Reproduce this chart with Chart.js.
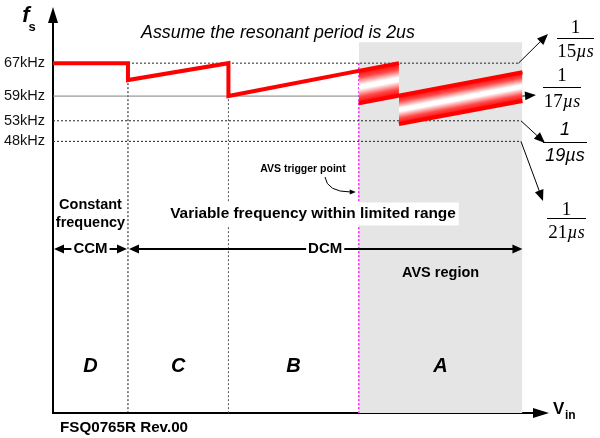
<!DOCTYPE html>
<html>
<head>
<meta charset="utf-8">
<script src="https://cdn.jsdelivr.net/npm/chart.js@4.4.0/dist/chart.umd.min.js"></script>
<style>
  html, body { margin: 0; padding: 0; background: #fff; }
  #wrap { width: 600px; height: 438px; }
</style>
</head>
<body>
<div id="wrap"><canvas id="chart" width="600" height="438"></canvas></div>
<script>
// frequency levels marked on the fs axis (kHz) and the matching periods (us)
const levels = [67, 59, 53, 48];
const periods = ['15', '17', '19', '21'];
const levelStart = [15.3, 0, 0, 0];
const levelEnd = [95.0, 95.8, 95.5, 95.5];

// operating regions along Vin
const regionNames = ['D', 'C', 'B', 'A'];
const regionEdges = [0, 15.3, 35.8, 62.4, 95.8];

// switching frequency trace
const fsX = [0, 15.3, 15.3, 35.8, 35.8, 70.6];
const fsY = [67, 67, 62.9, 67, 59, 67];

// AVS spread: first wedge, continuing band and its edges
const wedgeX = [62.4, 70.6];
const wedgeTop = [65.1, 67];
const wedgeBottom = [57.25, 59.1];
const bandX = [70.6, 95.8];
const bandTop = [59.1, 64.8];
const bandBottom = [52.2, 57.8];
const midX = [62.4, 95.8];
const midY = [57.25, 64.8];
const avsTop = 72.1;

const Y_MIN = -18, Y_MAX = 77;
const SANS = '"Liberation Sans", Arial, sans-serif';
const SERIF = '"Liberation Serif", "Times New Roman", serif';
const RED = '#ff0000';

const pts = (xs, ys) => xs.map((x, i) => ({ x: x, y: ys[i] }));

function bandGradient(xs, top, bottom) {
  return function (c) {
    const chart = c.chart;
    if (!chart.chartArea) return 'rgba(255,0,0,0.4)';
    const sx = chart.scales.x, sy = chart.scales.y;
    const x0 = sx.getPixelForValue(xs[0]), x1 = sx.getPixelForValue(xs[1]);
    const t0 = sy.getPixelForValue(top[0]), t1 = sy.getPixelForValue(top[1]);
    const b0 = sy.getPixelForValue(bottom[0]);
    let dx = x1 - x0, dy = t1 - t0;
    const len = Math.hypot(dx, dy);
    dx /= len; dy /= len;
    // gradient runs across the band, perpendicular to its edges
    const h = (b0 - t0) * dx;
    const g = chart.ctx.createLinearGradient(x0, t0, x0 - dy * h, t0 + dx * h);
    g.addColorStop(0, '#ff0000');
    g.addColorStop(0.2, '#ff4a4a');
    g.addColorStop(0.44, '#ffffff');
    g.addColorStop(0.56, '#ffffff');
    g.addColorStop(0.8, '#ff4a4a');
    g.addColorStop(1, '#ff0000');
    return g;
  };
}

const datasets = [];
// shaded AVS region
datasets.push({ data: pts([regionEdges[3], regionEdges[4]], [avsTop, avsTop]),
  borderWidth: 0, fill: 'start', backgroundColor: '#e5e5e5', order: 20 });

// frequency level lines
levels.forEach((v, i) => {
  datasets.push({ data: pts([levelStart[i], levelEnd[i]], [v, v]),
    borderColor: i === 1 ? '#808080' : '#222', borderWidth: 1,
    borderDash: i === 1 ? [] : [2, 2], order: 10 });
});

// region dividers
const dividerColors = ['#111', '#555', '#ff22ff'];
regionEdges.slice(1, 4).forEach((v, i) => {
  datasets.push({ data: pts([v, v], [levels[0], Y_MIN]),
    borderColor: dividerColors[i], borderWidth: i === 2 ? 1.5 : 1,
    borderDash: [2, 2], order: 10 });
});

// gradient fills of the AVS spread
let idx = datasets.length;
datasets.push({ data: pts(wedgeX, wedgeTop), borderWidth: 0,
  fill: { target: idx + 1 }, backgroundColor: bandGradient(wedgeX, wedgeTop, wedgeBottom), order: 5 });
datasets.push({ data: pts(wedgeX, wedgeBottom), borderWidth: 0, order: 5 });
idx = datasets.length;
datasets.push({ data: pts(bandX, bandTop), borderWidth: 0,
  fill: { target: idx + 1 }, backgroundColor: bandGradient(bandX, bandTop, bandBottom), order: 5 });
datasets.push({ data: pts(bandX, bandBottom), borderWidth: 0, order: 5 });

// red traces
datasets.push({ data: pts(fsX, fsY), borderColor: RED, borderWidth: 4, order: 0 });
datasets.push({ data: pts(midX, midY), borderColor: RED, borderWidth: 4, order: 0 });
datasets.push({ data: pts(bandX, bandBottom), borderColor: RED, borderWidth: 4, order: 0 });

function arrowHead(ctx, x0, y0, x1, y1, len, half) {
  const a = Math.atan2(y1 - y0, x1 - x0);
  ctx.beginPath();
  ctx.moveTo(x1, y1);
  ctx.lineTo(x1 - len * Math.cos(a) + half * Math.sin(a), y1 - len * Math.sin(a) - half * Math.cos(a));
  ctx.lineTo(x1 - len * Math.cos(a) - half * Math.sin(a), y1 - len * Math.sin(a) + half * Math.cos(a));
  ctx.closePath();
  ctx.fill();
}

function arrow(ctx, x0, y0, x1, y1, width, len, half) {
  const a = Math.atan2(y1 - y0, x1 - x0);
  ctx.lineWidth = width;
  ctx.beginPath();
  ctx.moveTo(x0, y0);
  ctx.lineTo(x1 - len * 0.8 * Math.cos(a), y1 - len * 0.8 * Math.sin(a));
  ctx.stroke();
  arrowHead(ctx, x0, y0, x1, y1, len, half);
}

function fraction(ctx, cx, yNum, yLine, yDen, half, digits, italicSans) {
  ctx.textBaseline = 'middle';
  ctx.textAlign = 'center';
  const fam = italicSans ? SANS : SERIF;
  const up = italicSans ? 'italic 18px ' + fam : '19px ' + fam;
  const it = 'italic 18px ' + fam;
  ctx.font = up;
  ctx.fillText('1', cx, yNum);
  ctx.lineWidth = 1;
  ctx.beginPath();
  ctx.moveTo(cx - half, yLine + 0.5);
  ctx.lineTo(cx + half, yLine + 0.5);
  ctx.stroke();
  const w1 = ctx.measureText(digits).width;
  ctx.font = it;
  const w2 = ctx.measureText('\u00b5s').width;
  const x0 = cx - (w1 + w2) / 2;
  ctx.textAlign = 'left';
  ctx.font = up;
  ctx.fillText(digits, x0, yDen);
  ctx.font = it;
  ctx.fillText('\u00b5s', x0 + w1, yDen);
}

function boxedText(ctx, text, cx, cy, padX, h) {
  const w = ctx.measureText(text).width;
  ctx.fillStyle = '#fff';
  ctx.fillRect(cx - w / 2 - padX, cy - h / 2, w + 2 * padX, h);
  ctx.fillStyle = '#000';
  ctx.fillText(text, cx, cy);
}

const notes = {
  id: 'notes',
  afterDatasetsDraw(chart) {
    const ctx = chart.ctx;
    const sx = chart.scales.x, sy = chart.scales.y;
    const a = chart.chartArea;
    const px = v => sx.getPixelForValue(v);
    const py = v => sy.getPixelForValue(v);
    ctx.save();
    ctx.fillStyle = '#000';
    ctx.strokeStyle = '#000';

    // axis arrows
    arrowHead(ctx, a.left, a.top + 10, a.left, 7, 16, 5);
    ctx.lineWidth = 2;
    ctx.beginPath(); ctx.moveTo(a.right, a.bottom); ctx.lineTo(538, a.bottom); ctx.stroke();
    arrowHead(ctx, a.right, a.bottom, 549, a.bottom, 16, 5);

    // axis names
    ctx.textBaseline = 'middle';
    ctx.textAlign = 'center';
    ctx.font = 'italic bold 22px ' + SANS;
    ctx.fillText('f', 26, 16);
    ctx.font = 'bold 13px ' + SANS;
    ctx.fillText('s', 32, 27);
    ctx.textAlign = 'left';
    ctx.font = 'bold 17px ' + SANS;
    ctx.fillText('V', 553, 409);
    ctx.font = 'bold 12px ' + SANS;
    ctx.fillText('in', 565, 416);

    // heading
    ctx.textAlign = 'center';
    ctx.font = 'italic 17.8px ' + SANS;
    ctx.fillText('Assume the resonant period is 2us', 278, 33);

    // period labels with arrows from the level lines
    const tips = [[548, 34], [536, 95], [545, 143], [543, 201]];
    const frac = [[575.5, 28, 38, 52, 18.5], [562, 76, 87, 102, 19], [565, 130, 142, 156, 22], [566.5, 210, 218, 233, 19.5]];
    levels.forEach((v, i) => {
      const x0 = px(levelEnd[i]), y0 = py(v);
      ctx.fillStyle = '#000'; ctx.strokeStyle = '#000';
      arrow(ctx, x0, y0, tips[i][0], tips[i][1], 1, 11, 4.5);
      const f = frac[i];
      fraction(ctx, f[0], f[1], f[2], f[3], f[4], periods[i], i === 2);
    });

    // AVS trigger point
    ctx.textAlign = 'center';
    ctx.textBaseline = 'middle';
    ctx.font = 'bold 10.5px ' + SANS;
    ctx.fillText('AVS trigger point', 303, 169);
    ctx.lineWidth = 1;
    ctx.beginPath();
    ctx.moveTo(325, 177);
    ctx.quadraticCurveTo(327, 192, 351, 192);
    ctx.stroke();
    arrowHead(ctx, 340, 192, px(regionEdges[3]) - 3, 192, 6, 2.5);

    // region descriptions
    ctx.font = 'bold 15.4px ' + SANS;
    boxedText(ctx, 'Variable frequency within limited range', 313, 214, 3, 23);
    ctx.font = 'bold 14.5px ' + SANS;
    const midD = (px(regionEdges[0]) + px(regionEdges[1])) / 2;
    ctx.fillText('Constant', midD, 205);
    ctx.fillText('frequency', midD, 223);
    ctx.fillText('AVS region', (px(regionEdges[3]) + px(regionEdges[4])) / 2, 273);

    // CCM / DCM span arrows
    const yRow = 249;
    const e0 = px(regionEdges[0]), e1 = px(regionEdges[1]), e4 = px(regionEdges[4]);
    ctx.lineWidth = 2;
    ctx.beginPath(); ctx.moveTo(e0 + 4, yRow); ctx.lineTo(e1 - 4, yRow); ctx.stroke();
    ctx.beginPath(); ctx.moveTo(e1 + 5, yRow); ctx.lineTo(e4 - 4, yRow); ctx.stroke();
    arrowHead(ctx, e1, yRow, e0 + 1, yRow, 10, 4.5);
    arrowHead(ctx, e0, yRow, e1 - 1, yRow, 10, 4.5);
    arrowHead(ctx, e4, yRow, e1 + 1, yRow, 10, 4.5);
    arrowHead(ctx, e1, yRow, e4, yRow, 10, 4.5);
    ctx.font = 'bold 15px ' + SANS;
    boxedText(ctx, 'CCM', (e0 + e1) / 2, yRow, 2, 16);
    boxedText(ctx, 'DCM', (e1 + e4) / 2, yRow, 2, 16);

    // region letters
    ctx.font = 'italic bold 20px ' + SANS;
    regionNames.forEach((n, i) => {
      ctx.fillText(n, (px(regionEdges[i]) + px(regionEdges[i + 1])) / 2, 366);
    });

    // footer
    ctx.textAlign = 'left';
    ctx.font = 'bold 15.2px ' + SANS;
    ctx.fillText('FSQ0765R Rev.00', 60, 428);
    ctx.restore();
  }
};

new Chart(document.getElementById('chart'), {
  type: 'line',
  data: { datasets: datasets },
  options: {
    responsive: false,
    animation: false,
    layout: { autoPadding: false, padding: { left: 0, right: 57, top: 22, bottom: 0 } },
    elements: { point: { radius: 0, hoverRadius: 0 }, line: { tension: 0, fill: false } },
    plugins: { legend: { display: false }, tooltip: { enabled: false } },
    events: [],
    scales: {
      x: {
        type: 'linear', min: 0, max: 100,
        ticks: { display: false },
        grid: { display: false, drawTicks: false, tickLength: 0 },
        border: { color: '#000', width: 2 },
        afterFit: s => { s.height = 25; }
      },
      y: {
        type: 'linear', min: Y_MIN, max: Y_MAX,
        grid: { display: false, drawTicks: false, tickLength: 0 },
        border: { color: '#000', width: 2 },
        afterBuildTicks: s => { s.ticks = levels.map(v => ({ value: v })); },
        ticks: {
          autoSkip: false, padding: 8, color: '#111',
          font: { family: SANS, size: 14.5 },
          callback: v => v + 'kHz'
        },
        afterFit: s => { s.width = 53; }
      }
    }
  },
  plugins: [notes]
});
</script>
</body>
</html>
